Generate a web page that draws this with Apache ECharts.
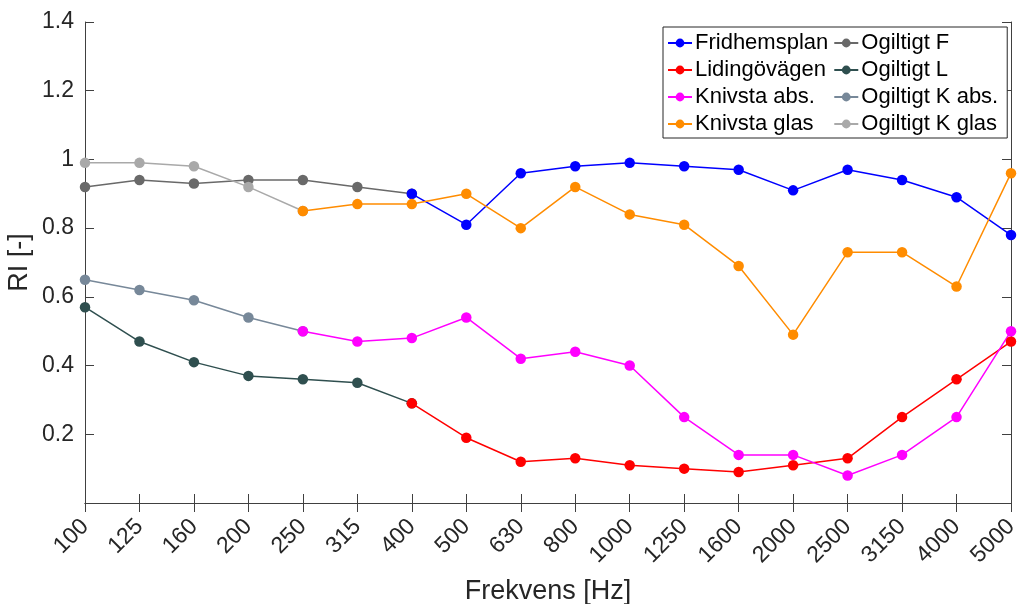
<!DOCTYPE html>
<html>
<head>
<meta charset="utf-8">
<script src="https://cdn.jsdelivr.net/npm/echarts@6/dist/echarts.min.js"></script>
<style>
html,body{margin:0;padding:0;background:#fff;}
#chart{width:1025px;height:604px;}
</style>
</head>
<body>
<div id="chart"></div>
<script>
const categories = ['100','125','160','200','250','315','400','500','630','800','1000','1250','1600','2000','2500','3150','4000','5000'];
const yTicks = [0, 0.2, 0.4, 0.6, 0.8, 1.0, 1.2, 1.4];

const fridhemsplan = [null,null,null,null,null,null,0.90,0.81,0.96,0.98,0.99,0.98,0.97,0.91,0.97,0.94,0.89,0.78];
const lidingovagen = [null,null,null,null,null,null,0.29,0.19,0.12,0.13,0.11,0.10,0.09,0.11,0.13,0.25,0.36,0.47];
const knivstaAbs   = [null,null,null,null,0.50,0.47,0.48,0.54,0.42,0.44,0.40,0.25,0.14,0.14,0.08,0.14,0.25,0.50];
const knivstaGlas  = [null,null,null,null,0.85,0.87,0.87,0.90,0.80,0.92,0.84,0.81,0.69,0.49,0.73,0.73,0.63,0.96];
const ogiltigtF    = [0.92,0.94,0.93,0.94,0.94,0.92,0.90,null,null,null,null,null,null,null,null,null,null,null];
const ogiltigtL    = [0.57,0.47,0.41,0.37,0.36,0.35,0.29,null,null,null,null,null,null,null,null,null,null,null];
const ogiltigtKAbs = [0.65,0.62,0.59,0.54,0.50,null,null,null,null,null,null,null,null,null,null,null,null,null];
const ogiltigtKGlas= [0.99,0.99,0.98,0.92,0.85,null,null,null,null,null,null,null,null,null,null,null,null,null];

const seriesNames = ['Fridhemsplan','Lidingövägen','Knivsta abs.','Knivsta glas','Ogiltigt F','Ogiltigt L','Ogiltigt K abs.','Ogiltigt K glas'];
const seriesData = [fridhemsplan, lidingovagen, knivstaAbs, knivstaGlas, ogiltigtF, ogiltigtL, ogiltigtKAbs, ogiltigtKGlas];
const seriesColors = ['#0000FF','#FF0000','#FF00FF','#FF8C00','#696969','#2F4F4F','#778899','#A9A9A9'];

const FONT = '"Liberation Sans", Arial, Helvetica, sans-serif';
const AX = '#404040';
const TXT = '#262626';

const chart = echarts.init(document.getElementById('chart'), null, {renderer:'canvas'});

const series = seriesNames.map((name, i) => ({
  name: name,
  type: 'line',
  data: seriesData[i],
  xAxisIndex: 0,
  yAxisIndex: 0,
  symbol: 'circle',
  symbolSize: 10.5,
  showAllSymbol: true,
  connectNulls: false,
  animation: false,
  z: i < 4 ? 4 : 3,
  itemStyle: { color: seriesColors[i] },
  lineStyle: { color: seriesColors[i], width: 1.5 }
}));

const option = {
  backgroundColor: '#fff',
  animation: false,
  grid: { left: 85, right: 14, top: 22, bottom: 101, containLabel: false, outerBoundsMode: 'none' },
  legend: {
    data: seriesNames,
    orient: 'vertical',
    left: 663,
    top: 27,
    height: 106,
    itemGap: 5,
    itemWidth: 24,
    itemHeight: 11,
    padding: [5, 9, 3, 4],
    backgroundColor: '#fff',
    borderColor: '#262626',
    borderWidth: 1,
    borderRadius: 0,
    textStyle: { fontFamily: FONT, fontSize: 22, color: '#000', padding: [0,0,0,-2] }
  },
  xAxis: [
    {
      type: 'category',
      data: categories,
      boundaryGap: false,
      position: 'bottom',
      axisLine: { show: true, lineStyle: { color: AX, width: 1 } },
      axisTick: { show: true, inside: true, length: 9, alignWithLabel: true, lineStyle: { color: AX } },
      axisLabel: { rotate: 45, fontFamily: FONT, fontSize: 23, color: TXT, margin: 20, interval: 0 },
      splitLine: { show: false },
      name: 'Frekvens [Hz]',
      nameLocation: 'middle',
      nameGap: 75,
      nameMoveOverlap: false,
      nameTextStyle: { fontFamily: FONT, fontSize: 27, color: TXT }
    },
    {
      type: 'category',
      data: categories,
      boundaryGap: false,
      position: 'top',
      axisLine: { show: true, lineStyle: { color: AX, width: 1 } },
      axisTick: { show: true, inside: true, length: 9, lineStyle: { color: AX } },
      axisLabel: { show: false },
      splitLine: { show: false }
    }
  ],
  yAxis: [
    {
      type: 'value',
      min: yTicks[0],
      max: yTicks[yTicks.length - 1],
      interval: 0.2,
      position: 'left',
      axisLine: { show: true, lineStyle: { color: AX, width: 1 } },
      axisTick: { show: true, inside: true, length: 9, lineStyle: { color: AX } },
      axisLabel: {
        fontFamily: FONT, fontSize: 23, color: TXT, margin: 11,
        formatter: function (v) {
          if (Math.abs(v) < 1e-9) return '';
          return String(Math.round(v * 10) / 10);
        }
      },
      splitLine: { show: false },
      name: 'RI [-]',
      nameLocation: 'middle',
      nameGap: 52,
      nameMoveOverlap: false,
      nameRotate: 90,
      nameTextStyle: { fontFamily: FONT, fontSize: 27, color: TXT }
    },
    {
      type: 'value',
      min: yTicks[0],
      max: yTicks[yTicks.length - 1],
      interval: 0.2,
      position: 'right',
      axisLine: { show: true, lineStyle: { color: AX, width: 1 } },
      axisTick: { show: true, inside: true, length: 9, lineStyle: { color: AX } },
      axisLabel: { show: false },
      splitLine: { show: false }
    }
  ],
  series: series
};

chart.setOption(option);
</script>
</body>
</html>
